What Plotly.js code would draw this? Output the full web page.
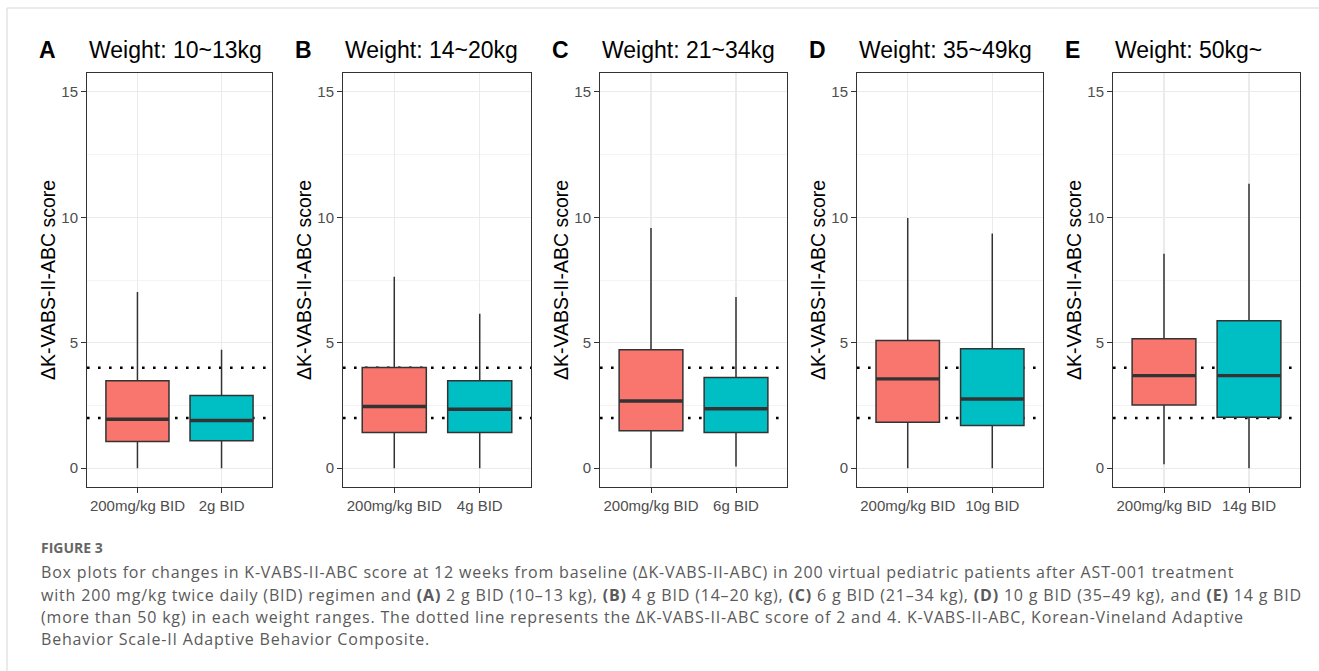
<!DOCTYPE html>
<html>
<head>
<meta charset="utf-8">
<script src="https://cdn.plot.ly/plotly-3.0.1.min.js"></script>
<style>html,body{margin:0;padding:0;background:#fff;}#chart{width:1319px;height:671px;}</style>
</head>
<body>
<div id="chart"></div>
<script>
// ---- data ----
const panelLetters = ['A', 'B', 'C', 'D', 'E'];
const panelTitles = ['Weight: 10~13kg', 'Weight: 14~20kg', 'Weight: 21~34kg', 'Weight: 35~49kg', 'Weight: 50kg~'];
const refLabel = '200mg/kg BID';
const doseLabels = ['2g BID', '4g BID', '6g BID', '10g BID', '14g BID'];
const refLow  = [0, 0, 0, 0, 0.16];
const refQ1   = [1.06, 1.42, 1.49, 1.83, 2.52];
const refMed  = [1.95, 2.46, 2.68, 3.56, 3.69];
const refQ3   = [3.48, 4.01, 4.72, 5.09, 5.16];
const refHigh = [7.02, 7.63, 9.57, 9.97, 8.55];
const doseLow  = [0, 0, 0.07, 0, 0];
const doseQ1   = [1.09, 1.42, 1.42, 1.70, 2.03];
const doseMed  = [1.90, 2.35, 2.37, 2.76, 3.69];
const doseQ3   = [2.90, 3.48, 3.61, 4.76, 5.88];
const doseHigh = [4.72, 6.15, 6.82, 9.35, 11.34];
const thresholds = [2, 4];
const yTitle = 'ΔK-VABS-II-ABC score';
const captionHead = 'FIGURE 3';
const captionLines = [
  'Box plots for changes in K-VABS-II-ABC score at 12 weeks from baseline (ΔK-VABS-II-ABC) in 200 virtual pediatric patients after AST-001 treatment',
  'with 200 mg/kg twice daily (BID) regimen and <b>(A)</b> 2 g BID (10–13 kg), <b>(B)</b> 4 g BID (14–20 kg), <b>(C)</b> 6 g BID (21–34 kg), <b>(D)</b> 10 g BID (35–49 kg), and <b>(E)</b> 14 g BID',
  '(more than 50 kg) in each weight ranges. The dotted line represents the ΔK-VABS-II-ABC score of 2 and 4. K-VABS-II-ABC, Korean-Vineland Adaptive',
  'Behavior Scale-II Adaptive Behavior Composite.'
];

// ---- layout constants ----
const W = 1319, H = 671;
const panelLeft = [87, 343, 600, 857, 1113];
const panelRight = [272, 531, 787, 1043, 1300];
const plotTop = 73, plotBottom = 487;
const boxW = 0.75;
const refColor = '#F8766D', doseColor = '#00BFC4', edge = '#333333';
const font = 'Liberation Sans, Arial, Helvetica, sans-serif';

const traces = [];
const shapes = [];
const annotations = [];
const layout = {
  width: W, height: H,
  margin: {l: 0, r: 0, t: 0, b: 0},
  paper_bgcolor: '#ffffff', plot_bgcolor: '#ffffff',
  showlegend: false,
  font: {family: font, color: '#4D4D4D'}
};

for (let i = 0; i < 5; i++) {
  const sfx = i === 0 ? '' : String(i + 1);
  const xa = 'x' + sfx, ya = 'y' + sfx;
  const cats = [refLabel, doseLabels[i]];
  const groups = [
    {lab: refLabel, low: refLow[i], q1: refQ1[i], med: refMed[i], q3: refQ3[i], high: refHigh[i], col: refColor},
    {lab: doseLabels[i], low: doseLow[i], q1: doseQ1[i], med: doseMed[i], q3: doseQ3[i], high: doseHigh[i], col: doseColor}
  ];
  groups.forEach((g, k) => {
    traces.push({
      type: 'box', xaxis: xa, yaxis: ya,
      x: [g.lab], q1: [g.q1], median: [g.med], q3: [g.q3],
      lowerfence: [g.low], upperfence: [g.high],
      width: boxW, whiskerwidth: 0, boxpoints: false,
      fillcolor: g.col, line: {color: edge, width: 1.5},
      hoverinfo: 'skip'
    });
    shapes.push({
      type: 'line', xref: xa, yref: ya, layer: 'above',
      x0: k - boxW / 2, x1: k + boxW / 2, y0: g.med, y1: g.med,
      line: {color: edge, width: 3.4}
    });
  });
  thresholds.forEach(t => {
    shapes.push({
      type: 'line', xref: xa, yref: ya, layer: 'below',
      x0: -0.6, x1: 1.6, y0: t, y1: t,
      line: {color: '#000000', width: 2.6, dash: '2.6px,8.4px'}
    });
  });
  const axCommon = {
    showline: true, mirror: true, linecolor: '#333333', linewidth: 1,
    ticks: 'outside', ticklen: 5, tickcolor: '#333333', tickwidth: 1,
    tickfont: {family: font, size: 15, color: '#4D4D4D'},
    showgrid: true, gridcolor: '#EBEBEB', gridwidth: 1.1, zeroline: false,
    fixedrange: true
  };
  layout['xaxis' + sfx] = Object.assign({}, axCommon, {
    domain: [panelLeft[i] / W, panelRight[i] / W],
    anchor: ya, type: 'category', categoryorder: 'array', categoryarray: cats,
    range: [-0.6, 1.6]
  });
  layout['yaxis' + sfx] = Object.assign({}, axCommon, {
    domain: [1 - plotBottom / H, 1 - plotTop / H],
    anchor: xa, range: [-0.75, 15.75],
    tickvals: [0, 5, 10, 15], ticktext: ['0', '5', '10', '15'],
    minor: {tickvals: [2.5, 7.5, 12.5], showgrid: true, gridcolor: '#EBEBEB', gridwidth: 0.55, ticks: ''}
  });
  annotations.push({
    xref: 'paper', yref: 'paper', x: (panelLeft[i] - 39) / W, y: 1 - ((plotTop + plotBottom) / 2) / H,
    xanchor: 'center', yanchor: 'middle', textangle: -90, showarrow: false,
    text: yTitle, font: {family: font, size: 19.5, color: '#000000'}
  });
  annotations.push({
    xref: 'paper', yref: 'paper', x: (panelLeft[i] - 50) / W, y: 1 - 50 / H,
    xanchor: 'left', yanchor: 'middle', showarrow: false,
    text: '<b>' + panelLetters[i] + '</b>', font: {family: font, size: 23, color: '#000000'}
  });
  annotations.push({
    xref: 'paper', yref: 'paper', x: panelLeft[i] / W, y: 1 - 50 / H,
    xanchor: 'left', yanchor: 'middle', showarrow: false,
    text: panelTitles[i], font: {family: font, size: 23, color: '#000000'}
  });
}

// caption
const capFont = 'Open Sans, Noto Sans, sans-serif';
annotations.push({
  xref: 'paper', yref: 'paper', x: 39 / W, y: 1 - 547 / H, xanchor: 'left', yanchor: 'middle',
  showarrow: false, text: '<b>' + captionHead + '</b>', font: {family: capFont, size: 14, color: '#666666'}
});
const capY = [572, 595, 617, 639];
captionLines.forEach((ln, j) => {
  annotations.push({
    xref: 'paper', yref: 'paper', x: 39 / W, y: 1 - capY[j] / H, xanchor: 'left', yanchor: 'middle',
    showarrow: false, text: '<span style="letter-spacing:0.82px">' + ln + '</span>',
    font: {family: capFont, size: 16, color: '#5A5A5A'}
  });
});

// page frame lines
shapes.push({type: 'line', xref: 'paper', yref: 'paper', x0: 7 / W, x1: 1, y0: 1 - 8 / H, y1: 1 - 8 / H, line: {color: '#D6D6D6', width: 1}});
shapes.push({type: 'line', xref: 'paper', yref: 'paper', x0: 7 / W, x1: 7 / W, y0: 1 - 8 / H, y1: 0, line: {color: '#D6D6D6', width: 1}});

layout.shapes = shapes;
layout.annotations = annotations;

Plotly.newPlot('chart', traces, layout, {displayModeBar: false, staticPlot: true});
</script>
</body>
</html>
